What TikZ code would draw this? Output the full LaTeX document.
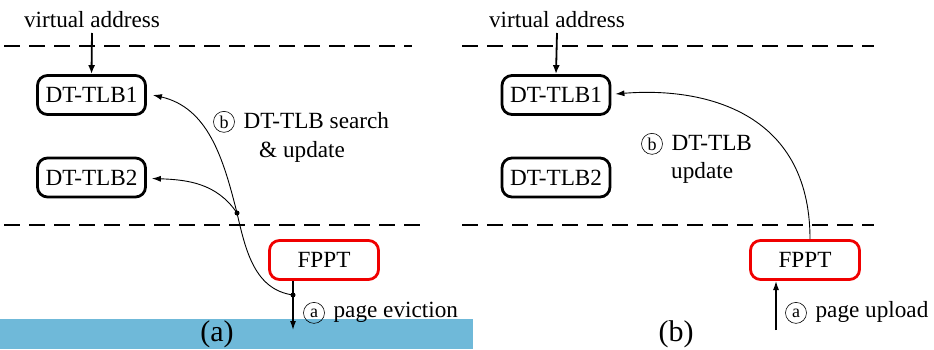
\documentclass[tikz,border=0pt]{standalone}
\usepackage{fontspec}
\setmainfont{Liberation Serif}
\usetikzlibrary{arrows.meta}
\definecolor{seablue}{RGB}{111,185,217}
\definecolor{boxred}{RGB}{240,0,0}
\newcommand\circlet[1]{\tikz[baseline=(c.base)]\node[draw,circle,line width=0.6pt,minimum size=21pt,inner sep=0pt,font=\rmfamily\fontsize{18}{18}\selectfont](c){#1};\hspace{3pt}}
\begin{document}
\begin{tikzpicture}[x=1pt,y=1pt,
  every node/.style={font=\rmfamily\fontsize{23.2}{25}\selectfont},
  tlb/.style={draw,line width=2.8pt,rounded corners=10pt,minimum width=108pt,minimum height=39pt,inner sep=0pt},
  fppt/.style={draw=boxred,line width=2.8pt,rounded corners=10pt,minimum width=109pt,minimum height=39pt,inner sep=0pt},
  divider/.style={line width=2pt,dash pattern=on 16pt off 9pt},
  link/.style={line width=0.9pt,-{Latex[length=9pt,width=6pt]}},
  feed/.style={line width=1.8pt,-{Latex[length=9pt,width=7pt]}},
  io/.style={line width=1.2pt,-{Latex[length=9pt,width=6pt]}},
  joint/.style={circle,fill,inner sep=0pt,minimum size=5pt},
  lbl/.style={anchor=base west,inner sep=0pt},
  subcaption/.style={font=\rmfamily\fontsize{30}{32}\selectfont,anchor=base,inner sep=0pt}]
\useasboundingbox (0,0) rectangle (934,349);
\begin{scope}
\clip (0,0) rectangle (934,349);

% memory strip under panel (a)
\fill[seablue] (0,0) rectangle (473,30);

% ---------------- panel (a) ----------------
\draw[divider] (4,303) -- (412,303);
\draw[divider] (4,124) -- (420,124);

\node[anchor=base] (vaA) at (92,321) {virtual address};
\node[tlb] (t1A) at (91.5,254) {DT-TLB1};
\node[tlb] (t2A) at (91.5,171.5) {DT-TLB2};
\node[fppt] (fA) at (324,89) {FPPT};

\coordinate (srcA) at (92,316);
\draw[feed] (srcA) -- (t1A.north);

\coordinate (downA) at (293,68);
\node[joint] (jLow) at (293,54) {};
\node[joint] (jMid) at (237,136) {};
\coordinate (tipA) at (293,19);
\draw[io] (downA) -- (tipA);

\draw[line width=0.9pt] (jLow.center) to[out=172,in=-77] (jMid.center);
\draw[link] (jMid.center) to[out=104,in=-13] ([xshift=6pt]t1A.east);
\draw[link] (jMid.center) to[out=124,in=-2] ([xshift=5pt,yshift=-1pt]t2A.east);

\node[lbl] (lbA1) at (213,221) {\circlet{b} DT-TLB search};
\node[lbl] (lbA2) at (259,192) {\& update};
\node[lbl] (lbA3) at (303,32) {\circlet{a} page eviction};
\node[subcaption] (capA) at (217,8) {(a)};

% ---------------- panel (b) ----------------
\draw[divider] (462,303) -- (874,303);
\draw[divider] (462,124) -- (874,124);

\node[anchor=base] (vaB) at (557,321) {virtual address};
\node[tlb] (t1B) at (556,254) {DT-TLB1};
\node[tlb] (t2B) at (556,171.5) {DT-TLB2};
\node[fppt] (fB) at (805,89) {FPPT};

\coordinate (srcB) at (557,316);
\draw[feed] (srcB) -- (t1B.north);

\coordinate (upB) at (810,110);
\draw[link] (upB) .. controls (810,240) and (700,262) .. ([xshift=4pt,yshift=1pt]t1B.east);

\coordinate (inB) at (776,19);
\draw[io] (inB) -- (776,68);

\node[lbl] (lbB1) at (641,199) {\circlet{b} DT-TLB};
\node[lbl] (lbB2) at (671,171) {update};
\node[lbl] (lbB3) at (785,32) {\circlet{a} page upload};
\node[subcaption] (capB) at (676,8) {(b)};
\end{scope}
\end{tikzpicture}
\end{document}
